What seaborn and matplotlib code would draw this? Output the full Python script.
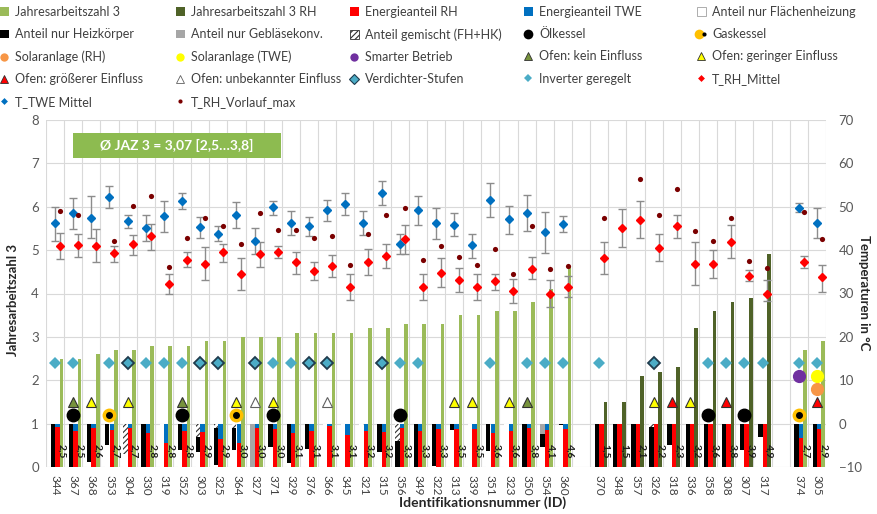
import numpy as np
import pandas as pd
import matplotlib
matplotlib.use("Agg")
import matplotlib.pyplot as plt
import seaborn as sns
from matplotlib.lines import Line2D
from matplotlib.patches import Patch, Rectangle
from matplotlib.legend_handler import HandlerTuple

N = np.nan

# ---------------- data ----------------
ids = ["344", "367", "368", "353", "304", "330", "319", "352", "303", "325", "364", "327", "371", "329", "376",
       "366", "345", "321", "315", "356", "349", "322", "313", "339", "351", "323", "350", "354", "360", "",
       "370", "348", "357", "326", "318", "336", "358", "308", "307", "317", "",
       "374", "305"]

jaz3 = [2.5, 2.5, 2.6, 2.7, 2.7, 2.8, 2.8, 2.8, 2.9, 2.9, 3.0, 3.0, 3.0, 3.1, 3.1,
        3.1, 3.1, 3.2, 3.2, 3.3, 3.3, 3.3, 3.5, 3.5, 3.6, 3.6, 3.8, 4.1, 4.6, N,
        N, N, N, N, N, N, N, N, N, N, N,
        2.7, 2.9]
jaz3_rh = [N, N, N, N, N, N, N, N, N, N, N, N, N, N, N,
           N, N, N, N, N, N, N, N, N, N, N, N, N, N, N,
           1.5, 1.5, 2.1, 2.2, 2.3, 3.2, 3.6, 3.8, 3.9, 4.9, N,
           N, N]

anteil_fh = [0, 0, 0.12, 0.5, 0.3, 0, 1, 0.4, 0.35, 0.05, 0.4, 0, 0.45, 0.1, 0.42,
             1, 1, 1, 0.35, 0, 0, 0.03, 0.85, 1, 0.38, 1, 0, 0.45, 0.96, N,
             0, 0, 0, 0, 0.5, 0, 0, 0, 0.4, 0.7, N,
             0, 0]
anteil_hk = [1, 1, 0.88, 0.5, 0, 1, 0, 0.6, 0.35, 0.85, 0.5, 0, 0.55, 0.9, 0.58,
             0, 0, 0, 0.65, 0.6, 1, 0.97, 0.15, 0, 0.62, 0, 1, 0.3, 0.04, N,
             1, 1, 1, 0.92, 0.5, 1, 1, 1, 0.6, 0.3, N,
             1, 1]
anteil_gk = [0, 0, 0, 0, 0, 0, 0, 0, 0, 0, 0, 1, 0, 0, 0,
             0, 0, 0, 0, 0, 0, 0, 0, 0, 0, 0, 0, 0.25, 0, N,
             0, 0, 0, 0, 0, 0, 0, 0, 0, 0, N,
             0, 0]
anteil_mix = [0, 0, 0, 0, 0.7, 0, 0, 0, 0.3, 0.1, 0.1, 0, 0, 0, 0,
              0, 0, 0, 0, 0.4, 0, 0, 0, 0, 0, 0, 0, 0, 0, N,
              0, 0, 0, 0.08, 0, 0, 0, 0, 0, 0, N,
              0, 0]
energie_rh = [0.93, 0.82, 0.9, 0.85, 0.9, 0.78, 0.55, 0.82, 0.8, 0.65, 0.55, 0.9, 0.87, 0.78, 0.82,
              0.95, 0.74, 0.82, 0.8, 0.9, 0.82, 0.88, 0.88, 0.88, 0.78, 0.82, 0.9, 0.85, 0.88, N,
              1, 1, 1, 1, 1, 1, 1, 1, 1, 1, N,
              0.68, 0.88]
energie_twe = [0.07, 0.18, 0.1, 0.15, 0.1, 0.22, 0.45, 0.18, 0.2, 0.35, 0.45, 0.1, 0.13, 0.22, 0.18,
               0.05, 0.26, 0.18, 0.2, 0.1, 0.18, 0.12, 0.12, 0.12, 0.22, 0.18, 0.1, 0.15, 0.12, N,
               0, 0, 0, 0, 0, 0, 0, 0, 0, 0, N,
               0.32, 0.12]

t_twe = [46.2, 48.5, 47.5, 52.2, 46.8, 45.1, 47.8, 51.4, 45.3, 43.8, 48.2, 42.2, 50.0, 46.3, 45.5,
         49.2, 50.6, 46.3, 53.2, 41.4, 49.2, 46.2, 45.8, 41.2, 51.5, 47.2, 48.5, 44.2, 46.0, N,
         N, N, N, N, N, N, N, N, N, N, N,
         49.8, 46.3]
t_twe_lo = [42.1, 44.8, 42.7, 49.8, 45.2, 42.1, 44.2, 49.5, 42.7, 42.1, 45.2, 39.2, 48.2, 43.5, 43.2,
            46.7, 48.1, 43.5, 50.4, 39.2, 45.8, 42.5, 43.2, 38.2, 47.7, 43.8, 44.4, 39.4, 44.2, N,
            N, N, N, N, N, N, N, N, N, N, N,
            48.8, 42.7]
t_twe_hi = [50.0, 52.1, 52.5, 54.8, 48.2, 48.2, 51.3, 53.1, 47.7, 45.5, 51.0, 45.0, 51.4, 49.1, 47.7,
            51.5, 53.1, 49.0, 55.9, 43.7, 52.5, 49.6, 48.6, 43.8, 55.4, 50.2, 52.7, 48.8, 47.9, N,
            N, N, N, N, N, N, N, N, N, N, N,
            50.8, 49.8]
t_rh = [41.0, 41.1, 41.0, 39.3, 41.3, 43.2, 32.1, 37.8, 36.9, 39.5, 34.5, 39.1, 39.6, 37.3, 35.2,
        36.3, 31.4, 37.3, 38.6, 42.5, 31.5, 34.8, 33.1, 31.5, 32.8, 30.5, 35.7, 30.0, 31.6, N,
        38.1, 45.2, 46.9, 40.5, 45.5, 36.7, 36.7, 41.9, 34.0, 30.0, N,
        37.2, 33.7]
t_rh_lo = [37.9, 38.5, 37.2, 37.3, 38.8, 40.0, 29.8, 36.0, 33.1, 37.3, 30.9, 36.2, 38.1, 34.6, 33.1,
           33.8, 28.5, 34.2, 35.8, 39.1, 28.5, 31.5, 30.4, 28.6, 30.8, 27.8, 33.4, 26.8, 29.3, N,
           34.4, 40.8, 42.7, 37.5, 42.8, 31.9, 33.5, 38.1, 32.8, 28.3, N,
           35.8, 30.4]
t_rh_hi = [44.0, 43.8, 44.8, 41.0, 43.6, 46.0, 34.4, 39.6, 40.8, 41.5, 38.2, 41.9, 41.0, 39.6, 37.3,
           38.8, 34.6, 40.2, 41.3, 45.8, 34.6, 38.1, 35.8, 34.5, 34.6, 33.4, 38.3, 33.2, 34.0, N,
           41.9, 49.5, 51.4, 43.7, 48.2, 41.8, 40.0, 45.8, 35.5, 33.2, N,
           38.6, 36.5]
t_rh_vl_max = [49.1, 48.2, N, 42.2, 50.2, 52.5, 36.2, 42.8, 47.5, 45.5, 41.5, 48.6, 44.6, 44.6, 42.8,
               43.3, 36.5, 43.7, 48.1, 49.8, 37.8, 41.0, 38.5, 36.5, 40.3, 34.6, 45.5, 35.7, 36.4, N,
               47.5, N, 56.3, 48.1, 54.2, 44.5, 42.1, 47.3, 37.5, 35.9, N,
               48.7, 42.5]

verdichter = ["304", "303", "325", "327", "376", "366", "315", "326"]
inverter = ["344", "367", "353", "330", "319", "352", "371", "329", "356", "349", "351", "350",
            "354", "360", "370", "358", "308", "307", "317", "374", "305"]
ofen_kein = ["367", "352", "350"]
ofen_gering = ["368", "304", "364", "371", "313", "339", "323", "326", "336"]
ofen_gross = ["318", "308", "305"]
ofen_unbekannt = ["327", "366"]
oelkessel = ["367", "352", "371", "356", "358", "307"]
gaskessel = ["353", "364", "374"]
solar_rh = ["305"]
solar_twe = ["305"]
smart = ["374"]

jaz_mittel_text = "Ø JAZ 3 = 3,07 [2,5…3,8]"

# ---------------- styling ----------------
sns.set_theme(style="white")
plt.rcParams["font.family"] = ["Lato", "DejaVu Sans"]
plt.rcParams["hatch.linewidth"] = 0.8
plt.rcParams["hatch.color"] = "#303030"

C_JAZ = "#9bbb59"
C_JAZRH = "#4f6228"
C_RED = "#ff0000"
C_BLUE = "#0070c0"
C_GK = "#a6a6a6"
C_GRID = "#d9d9d9"
C_TXT = "#404040"
C_DIAM = "#4bacc6"
C_VL = "#7b0000"
C_ERR = "#8c8c8c"

OFF_A, W_A = -0.12, 0.24
OFF_B, W_B = 0.13, 0.25
OFF_C, W_C = 0.35, 0.20
OFF_RH = 0.27

LV_DIAM, LV_SMART, LV_SOLRH, LV_OFEN, LV_KESSEL = 2.4, 2.1, 1.8, 1.5, 1.2

x = np.arange(len(ids))
idx = {k: i for i, k in enumerate(ids) if k}
arr = lambda v: np.array(v, dtype=float)

fig = plt.figure(figsize=(8.78, 5.14), dpi=100)
ax = fig.add_axes([46 / 878, 47 / 514, 780 / 878, 347 / 514])
ax2 = ax.twinx()

# grid
ax.set_axisbelow(True)
ax.set_xticks(np.arange(-0.5, len(ids), 1), minor=True)
ax.grid(which="minor", axis="x", color=C_GRID, lw=0.8)
ax.grid(which="major", axis="y", color=C_GRID, lw=0.8)
ax.grid(which="major", axis="x", visible=False)

# heating distribution bars (stacked)
bottom = np.zeros(len(ids))
for vals, fc, hatch in [(anteil_fh, "white", None), (anteil_hk, "black", None),
                        (anteil_gk, C_GK, None), (anteil_mix, "white", "//////")]:
    v = arr(vals)
    ax.bar(x + OFF_A, v, width=W_A, bottom=bottom, color=fc, hatch=hatch,
           edgecolor="#303030" if hatch else fc, linewidth=0, zorder=2)
    bottom = bottom + np.nan_to_num(v)

# energy shares
ax.bar(x + OFF_B, arr(energie_rh), width=W_B, color=C_RED, linewidth=0, zorder=2)
ax.bar(x + OFF_B, arr(energie_twe), width=W_B, bottom=np.nan_to_num(arr(energie_rh)),
       color=C_BLUE, linewidth=0, zorder=2)

# JAZ bars via seaborn
df1 = pd.DataFrame({"pos": x + OFF_C, "jaz": arr(jaz3)}).dropna()
df2 = pd.DataFrame({"pos": x + OFF_C, "jaz": arr(jaz3_rh)}).dropna()
sns.barplot(data=df1, x="pos", y="jaz", native_scale=True, width=W_C, color=C_JAZ,
            saturation=1, errorbar=None, ax=ax, zorder=2, linewidth=0)
sns.barplot(data=df2, x="pos", y="jaz", native_scale=True, width=W_C, color=C_JAZRH,
            saturation=1, errorbar=None, ax=ax, zorder=2, linewidth=0)

for i, (a, b) in enumerate(zip(jaz3, jaz3_rh)):
    v = a if not np.isnan(a) else b
    if not np.isnan(v):
        ax.text(x[i] + OFF_C, 0.37, f"{v:.1f}".replace(".", ","), rotation=-90,
                ha="center", va="center", fontsize=7.5, fontweight="bold", color="#1a1a1a", zorder=5)

# categorical markers
def pos(lst):
    return np.array([idx[k] for k in lst])

def mark(lst, level, **kw):
    p = pos(lst)
    ax.plot(p, np.full(len(p), level), ls="none", zorder=4, **kw)

mark(inverter, LV_DIAM, marker="D", ms=6.5, mfc=C_DIAM, mec=C_DIAM, mew=0)
mark(verdichter, LV_DIAM, marker="D", ms=6.5, mfc=C_DIAM, mec="#1f3b4d", mew=1.3)
mark(ofen_kein, LV_OFEN, marker="^", ms=7.5, mfc="#77933c", mec="#303030", mew=0.8)
mark(ofen_gering, LV_OFEN, marker="^", ms=7.5, mfc="#ffff00", mec="#303030", mew=0.8)
mark(ofen_gross, LV_OFEN, marker="^", ms=7.5, mfc=C_RED, mec="#303030", mew=0.8)
mark(ofen_unbekannt, LV_OFEN, marker="^", ms=7.5, mfc="white", mec="#606060", mew=0.8)
mark(oelkessel, LV_KESSEL, marker="o", ms=9, mfc="black", mec="black")
mark(gaskessel, LV_KESSEL, marker="o", ms=9, mfc="#ffc000", mec="#ffc000")
mark(gaskessel, LV_KESSEL, marker="o", ms=4, mfc="black", mec="black")
mark(smart, LV_SMART, marker="o", ms=8.5, mfc="#7030a0", mec="#7030a0")
mark(solar_twe, LV_SMART, marker="o", ms=8.5, mfc="#ffff00", mec="#ffff00")
mark(solar_rh, LV_SOLRH, marker="o", ms=8.5, mfc="#f79646", mec="#f79646")

# temperatures on secondary axis
tw, twl, twh = arr(t_twe), arr(t_twe_lo), arr(t_twe_hi)
tr, trl, trh = arr(t_rh), arr(t_rh_lo), arr(t_rh_hi)
ax2.errorbar(x, tw, yerr=[tw - twl, twh - tw], fmt="none", ecolor=C_ERR, elinewidth=1,
             capsize=3, capthick=1, zorder=3)
ax2.errorbar(x + OFF_RH, tr, yerr=[tr - trl, trh - tr], fmt="none", ecolor=C_ERR, elinewidth=1,
             capsize=3, capthick=1, zorder=3)
ax2.plot(x, tw, ls="none", marker="D", ms=4, color=C_BLUE, zorder=4)
ax2.plot(x + OFF_RH, tr, ls="none", marker="D", ms=4, color=C_RED, zorder=4)
sns.scatterplot(x=x + OFF_RH, y=arr(t_rh_vl_max), ax=ax2, color=C_VL, s=14, linewidth=0, zorder=4)

# mean box
ax.add_patch(Rectangle((1.0, 7.12), 11.45, 0.58, facecolor="#8dbb50", edgecolor="none", zorder=6))
ax.text(6.72, 7.41, jaz_mittel_text, ha="center", va="center", color="white",
        fontsize=10, fontweight="bold", zorder=7)

# axes
ax.set_xlim(-0.5, len(ids) - 0.5)
ax.set_ylim(0, 8)
ax2.set_ylim(-10, 70)
ax.set_yticks(range(0, 9))
ax2.set_yticks(range(-10, 71, 10))
real = [i for i, k in enumerate(ids) if k]
ax.set_xticks(real)
ax.set_xticklabels([ids[i] for i in real], rotation=-90, fontsize=8.5, color=C_TXT)
ax.tick_params(axis="x", which="both", length=0, pad=6)
ax.tick_params(axis="y", length=0, pad=5, labelsize=9.5, labelcolor="#595959")
ax2.tick_params(axis="y", length=0, pad=9, labelsize=9.5, labelcolor="#595959")
ax.set_xlabel("")
ax.set_ylabel("")
ax2.set_ylabel("")
for a in (ax, ax2):
    for s in a.spines.values():
        s.set_visible(False)
ax2.grid(False)

fig.text(13 / 878, 1 - 300 / 514, "Jahresarbeitszahl 3", rotation=90, ha="center", va="center",
         fontsize=9.5, fontweight="bold", color="#262626")
fig.text(864 / 878, 1 - 293 / 514, "Temperaturen in °C", rotation=-90, ha="center", va="center",
         fontsize=9.5, fontweight="bold", color="#262626")
fig.text(483 / 878, 1 - 503 / 514, "Identifikationsnummer (ID)", ha="center", va="center",
         fontsize=10, fontweight="bold", color="#262626")

# legend (five columns, row-major like the original)
def sq(fc, ec=None, hatch=None):
    return Patch(facecolor=fc, edgecolor=ec if ec else fc, linewidth=0.6 if ec else 0, hatch=hatch)

def mk(marker, fc, ms, ec=None, mew=0.0):
    return Line2D([], [], ls="none", marker=marker, ms=ms, mfc=fc, mec=ec if ec else fc, mew=mew)

h = {
    "Jahresarbeitszahl 3": sq(C_JAZ),
    "Jahresarbeitszahl 3 RH": sq(C_JAZRH),
    "Energieanteil RH": sq(C_RED),
    "Energieanteil TWE": sq(C_BLUE),
    "Anteil nur Flächenheizung": sq("white", "#a0a0a0"),
    "Anteil nur Heizkörper": sq("black"),
    "Anteil nur Gebläsekonv.": sq(C_GK),
    "Anteil gemischt (FH+HK)": sq("white", "#303030", "//////"),
    "Ölkessel": mk("o", "black", 7),
    "Gaskessel": (mk("o", "#ffc000", 7), mk("o", "black", 3)),
    "Solaranlage (RH)": mk("o", "#f79646", 6),
    "Solaranlage (TWE)": mk("o", "#ffff00", 6),
    "Smarter Betrieb": mk("o", "#7030a0", 6),
    "Ofen: kein Einfluss": mk("^", "#77933c", 6, "#303030", 0.6),
    "Ofen: geringer Einfluss": mk("^", "#ffff00", 6, "#303030", 0.6),
    "Ofen: größerer Einfluss": mk("^", C_RED, 6, "#303030", 0.6),
    "Ofen: unbekannter Einfluss": mk("^", "white", 6, "#606060", 0.6),
    "Verdichter-Stufen": mk("D", C_DIAM, 5, "#1f3b4d", 0.8),
    "Inverter geregelt": mk("D", C_DIAM, 4),
    "T_RH_Mittel": mk("D", C_RED, 3.5),
    "T_TWE Mittel": mk("D", C_BLUE, 3.5),
    "T_RH_Vorlauf_max": mk("o", C_VL, 3),
}
order = list(h.keys())
col_x = [0, 176, 350, 524, 697]
for c in range(5):
    labs = order[c::5]
    fig.legend([h[l] for l in labs], labs, loc="upper left",
               bbox_to_anchor=(col_x[c] / 878, 1 - 6 / 514), bbox_transform=fig.transFigure,
               frameon=False, fontsize=9, labelcolor=C_TXT, handlelength=0.7, handleheight=0.7,
               handletextpad=0.5, labelspacing=0.82, borderpad=0, borderaxespad=0,
               handler_map={tuple: HandlerTuple(ndivide=None, pad=0)})

fig.savefig("out.png", dpi=100)
